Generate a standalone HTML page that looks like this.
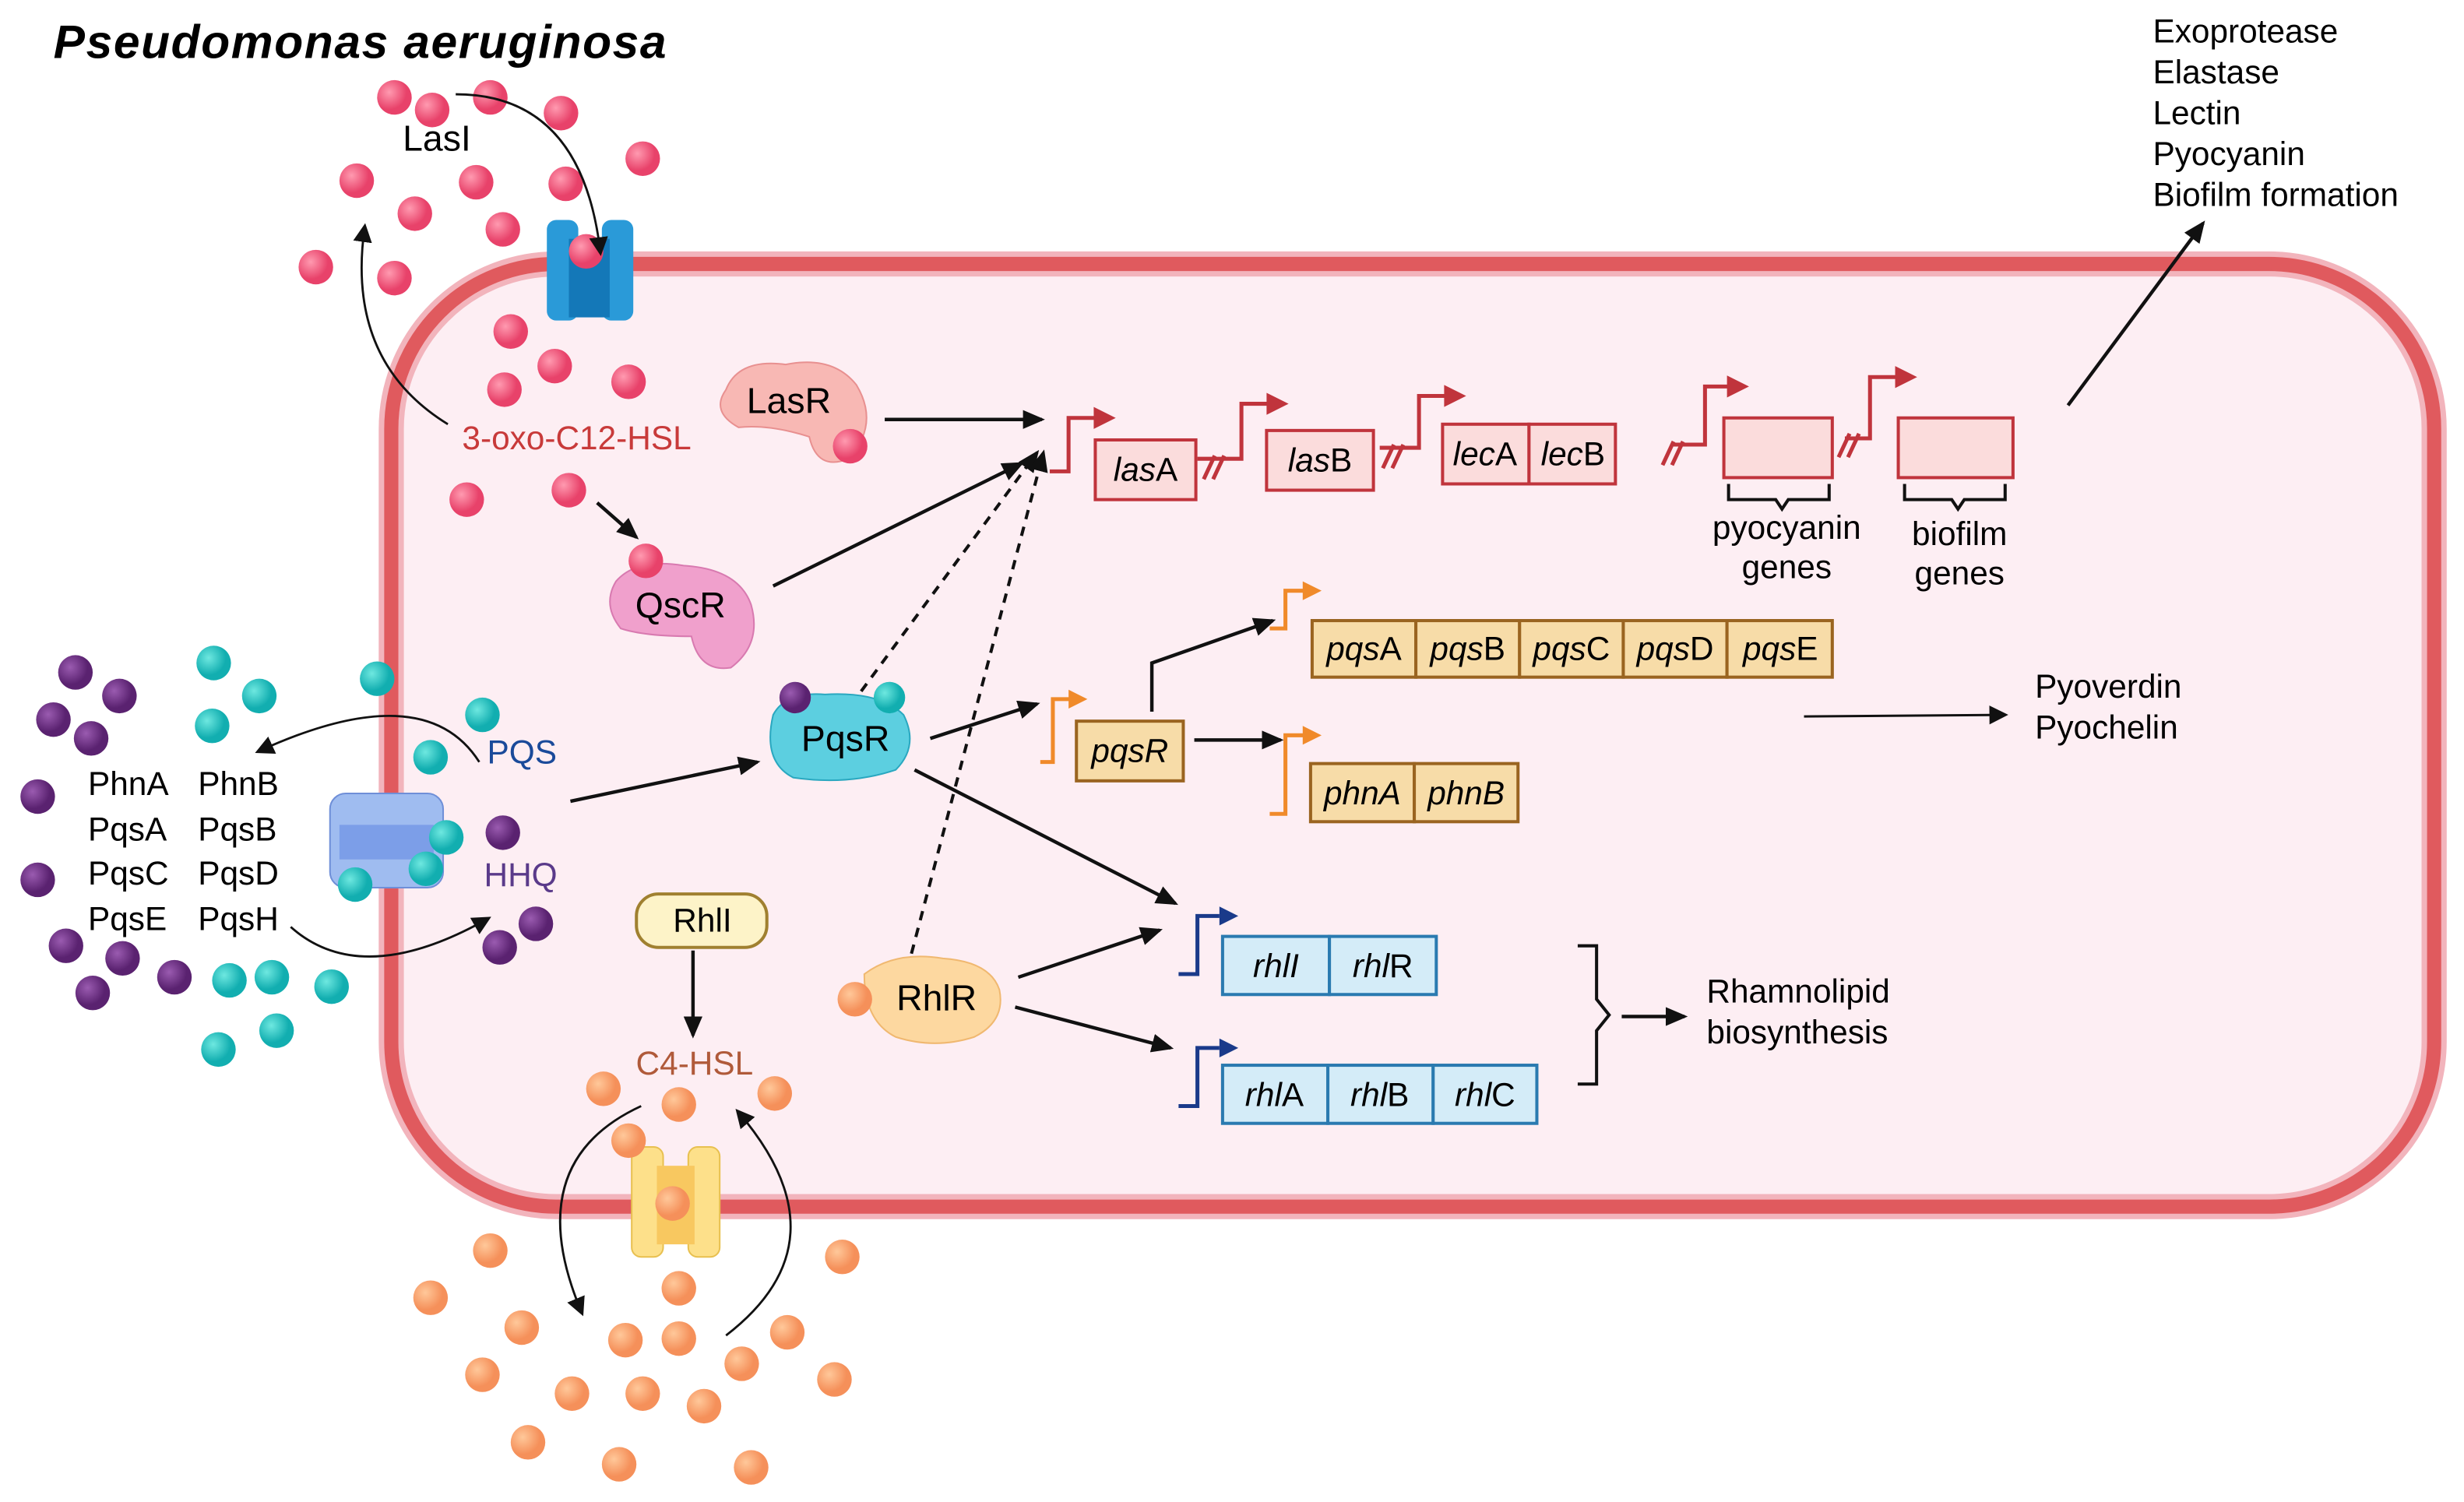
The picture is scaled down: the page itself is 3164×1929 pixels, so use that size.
<!DOCTYPE html>
<html><head><meta charset="utf-8"><style>
html,body{margin:0;padding:0;background:#fff;}
svg{display:block;}
text{font-family:"Liberation Sans",sans-serif;}
</style></head><body>
<svg width="3164" height="1929" viewBox="0 0 1568 956" preserveAspectRatio="none" xmlns="http://www.w3.org/2000/svg">
<defs>
<marker id="a" markerWidth="12" markerHeight="12" refX="9" refY="6" orient="auto" markerUnits="userSpaceOnUse"><path d="M0,0 L12,6 L0,12 Z" fill="#111"/></marker>
<marker id="b" markerWidth="14" markerHeight="12" refX="12" refY="6" orient="auto" markerUnits="userSpaceOnUse"><path d="M0,0 L14,6 L0,12 Z" fill="#111"/></marker>
<radialGradient id="pk" cx="35%" cy="35%"><stop offset="0" stop-color="#ff9ab0"/><stop offset="1" stop-color="#e8426a"/></radialGradient>
<radialGradient id="tl" cx="35%" cy="35%"><stop offset="0" stop-color="#6ee8e0"/><stop offset="1" stop-color="#12aeb0"/></radialGradient>
<radialGradient id="pu" cx="35%" cy="35%"><stop offset="0" stop-color="#9a5bb0"/><stop offset="1" stop-color="#5a2270"/></radialGradient>
<radialGradient id="or" cx="35%" cy="35%"><stop offset="0" stop-color="#ffc89a"/><stop offset="1" stop-color="#f5905a"/></radialGradient>
</defs>
<text x="34" y="37" font-size="30" font-weight="bold" font-style="italic" textLength="390">Pseudomonas aeruginosa</text>
<rect x="249" y="168" width="1300" height="600" rx="105" fill="#fdeef3" stroke="#f2b4bc" stroke-width="16"/>
<rect x="249" y="168" width="1300" height="600" rx="105" fill="none" stroke="#e05a5e" stroke-width="9"/>
<rect x="348" y="140" width="20" height="64" rx="6" fill="#2a9ad8"/><rect x="383" y="140" width="20" height="64" rx="6" fill="#2a9ad8"/><rect x="362" y="152" width="26" height="50" fill="#1478b8"/>
<rect x="210" y="505" width="72" height="60" rx="10" fill="#9fbcf0" stroke="#6f8fd8"/><rect x="216" y="525" width="60" height="22" fill="#7c9ee8"/>
<rect x="402" y="730" width="20" height="70" rx="6" fill="#fde08a" stroke="#e8c050"/><rect x="438" y="730" width="20" height="70" rx="6" fill="#fde08a" stroke="#e8c050"/><rect x="418" y="742" width="24" height="50" fill="#f8c860"/>
<g fill="url(#pk)">
<circle cx="251" cy="62" r="11"/><circle cx="275" cy="70" r="11"/><circle cx="312" cy="62" r="11"/><circle cx="357" cy="72" r="11"/><circle cx="409" cy="101" r="11"/><circle cx="227" cy="115" r="11"/><circle cx="303" cy="116" r="11"/><circle cx="360" cy="117" r="11"/><circle cx="264" cy="136" r="11"/><circle cx="320" cy="146" r="11"/><circle cx="201" cy="170" r="11"/><circle cx="251" cy="177" r="11"/><circle cx="373" cy="160" r="11"/><circle cx="325" cy="211" r="11"/><circle cx="353" cy="233" r="11"/><circle cx="321" cy="248" r="11"/><circle cx="400" cy="243" r="11"/><circle cx="297" cy="318" r="11"/><circle cx="362" cy="312" r="11"/>
</g>
<path d="M462,248 Q470,228 500,232 Q530,226 545,245 Q560,270 540,292 Q520,300 515,278 Q490,270 470,272 Q452,262 462,248Z" fill="#f8b8b4" stroke="#e89090"/>
<circle cx="541" cy="284" r="11" fill="url(#pk)"/>
<text x="502" y="263" font-size="23" text-anchor="middle">LasR</text>
<path d="M392,370 Q405,355 435,360 Q470,362 478,385 Q485,410 465,425 Q445,428 440,405 Q410,405 395,400 Q383,385 392,370Z" fill="#f0a0cc" stroke="#d87ab0"/>
<circle cx="411" cy="357" r="11" fill="url(#pk)"/>
<text x="433" y="393" font-size="23" text-anchor="middle">QscR</text>
<path d="M492,455 Q500,440 525,442 Q560,440 575,455 Q585,475 570,490 Q540,500 505,495 Q485,485 492,455Z" fill="#5ccfe0" stroke="#2aa8c0"/>
<circle cx="506" cy="444" r="10" fill="url(#pu)"/><circle cx="566" cy="444" r="10" fill="url(#tl)"/>
<text x="538" y="478" font-size="23" text-anchor="middle">PqsR</text>
<path d="M550,620 Q570,605 600,610 Q630,612 636,630 Q640,650 620,660 Q595,668 570,660 Q550,650 550,620Z" fill="#fdd8a0" stroke="#f0b870"/>
<circle cx="544" cy="636" r="11" fill="url(#or)"/>
<text x="596" y="643" font-size="23" text-anchor="middle">RhlR</text>
<rect x="405" y="569" width="83" height="34" rx="14" fill="#fdf3c8" stroke="#a08030" stroke-width="2"/>
<text x="447" y="593" font-size="21" text-anchor="middle">RhlI</text>
<g fill="url(#tl)">
<circle cx="136" cy="422" r="11"/><circle cx="165" cy="443" r="11"/><circle cx="240" cy="432" r="11"/><circle cx="135" cy="462" r="11"/><circle cx="307" cy="455" r="11"/><circle cx="274" cy="482" r="11"/><circle cx="284" cy="533" r="11"/><circle cx="271" cy="553" r="11"/><circle cx="226" cy="563" r="11"/><circle cx="146" cy="624" r="11"/><circle cx="173" cy="622" r="11"/><circle cx="211" cy="628" r="11"/><circle cx="139" cy="668" r="11"/><circle cx="176" cy="656" r="11"/>
</g>
<g fill="url(#pu)">
<circle cx="48" cy="428" r="11"/><circle cx="76" cy="443" r="11"/><circle cx="34" cy="458" r="11"/><circle cx="58" cy="470" r="11"/><circle cx="24" cy="507" r="11"/><circle cx="320" cy="530" r="11"/><circle cx="24" cy="560" r="11"/><circle cx="78" cy="610" r="11"/><circle cx="42" cy="602" r="11"/><circle cx="111" cy="622" r="11"/><circle cx="59" cy="632" r="11"/><circle cx="341" cy="588" r="11"/><circle cx="318" cy="603" r="11"/>
</g>
<g fill="url(#or)">
<circle cx="384" cy="693" r="11"/><circle cx="432" cy="703" r="11"/><circle cx="493" cy="696" r="11"/><circle cx="400" cy="726" r="11"/><circle cx="428" cy="766" r="11"/><circle cx="312" cy="796" r="11"/><circle cx="536" cy="800" r="11"/><circle cx="274" cy="826" r="11"/><circle cx="432" cy="820" r="11"/><circle cx="332" cy="845" r="11"/><circle cx="398" cy="853" r="11"/><circle cx="432" cy="852" r="11"/><circle cx="501" cy="848" r="11"/><circle cx="307" cy="875" r="11"/><circle cx="364" cy="887" r="11"/><circle cx="409" cy="887" r="11"/><circle cx="448" cy="895" r="11"/><circle cx="472" cy="868" r="11"/><circle cx="531" cy="878" r="11"/><circle cx="336" cy="918" r="11"/><circle cx="394" cy="932" r="11"/><circle cx="478" cy="934" r="11"/>
</g>
<text x="278" y="96" font-size="23" text-anchor="middle">LasI</text>
<text x="367" y="286" font-size="21" fill="#c83a3a" text-anchor="middle">3-oxo-C12-HSL</text>
<text x="310" y="486" font-size="21" fill="#1a4a9a">PQS</text>
<text x="308" y="564" font-size="21" fill="#5a3a8a">HHQ</text>
<text x="442" y="684" font-size="21" fill="#b05a3a" text-anchor="middle">C4-HSL</text>
<g font-size="21"><text x="56" y="506">PhnA</text><text x="126" y="506">PhnB</text><text x="56" y="535">PqsA</text><text x="126" y="535">PqsB</text><text x="56" y="563">PqsC</text><text x="126" y="563">PqsD</text><text x="56" y="592">PqsE</text><text x="126" y="592">PqsH</text></g>
<g fill="none" stroke="#111" stroke-width="1.4">
<path d="M290,60 Q370,60 382,160" marker-end="url(#a)"/>
<path d="M285,270 Q220,230 232,145" marker-end="url(#a)"/>
<path d="M305,485 Q270,430 165,478" marker-end="url(#a)"/>
<path d="M185,590 Q230,630 310,585" marker-end="url(#a)"/>
<path d="M408,704 Q330,740 370,835" marker-end="url(#a)"/>
<path d="M462,850 Q540,790 470,708" marker-end="url(#a)"/>
</g>
<g stroke="#111" stroke-width="2.2" fill="none">
<line x1="563" y1="267" x2="663" y2="267" marker-end="url(#b)"/>
<line x1="380" y1="320" x2="405" y2="342" marker-end="url(#b)"/>
<line x1="492" y1="373" x2="650" y2="295" marker-end="url(#b)"/>
<line x1="363" y1="510" x2="482" y2="485" marker-end="url(#b)"/>
<line x1="592" y1="470" x2="660" y2="448" marker-end="url(#b)"/>
<line x1="582" y1="490" x2="748" y2="575" marker-end="url(#b)"/>
<line x1="648" y1="622" x2="738" y2="592" marker-end="url(#b)"/>
<line x1="646" y1="641" x2="745" y2="667" marker-end="url(#b)"/>
<polyline points="733,453 733,422 810,395" marker-end="url(#b)"/>
<line x1="760" y1="471" x2="815" y2="471" marker-end="url(#b)"/>
<line x1="441" y1="605" x2="441" y2="659" marker-end="url(#b)"/>
<line x1="1032" y1="647" x2="1072" y2="647" marker-end="url(#b)"/>
<line x1="1316" y1="258" x2="1402" y2="142" marker-end="url(#b)"/>
</g>
<line x1="1148" y1="456" x2="1275" y2="455" stroke="#111" stroke-width="1.5" marker-end="url(#a)"/>
<g stroke="#111" stroke-width="2" stroke-dasharray="6,5" fill="none">
<line x1="548" y1="440" x2="660" y2="288" marker-end="url(#b)"/>
<line x1="580" y1="607" x2="664" y2="288" marker-end="url(#b)"/>
</g>
<g stroke="#c0343c" stroke-width="2.5" fill="none">
<polyline points="668,300 680,300 680,266 698,266"/><polyline points="762,292 790,292 790,257 808,257"/><polyline points="878,285 903,285 903,252 921,252"/><polyline points="1065,283 1085,283 1085,246 1101,246"/><polyline points="1174,279 1190,279 1190,240 1208,240"/>
<line x1="766" y1="305" x2="773" y2="290"/><line x1="772" y1="305" x2="779" y2="290"/>
<line x1="880" y1="298" x2="887" y2="283"/><line x1="886" y1="298" x2="893" y2="283"/>
<line x1="1058" y1="296" x2="1065" y2="281"/><line x1="1064" y1="296" x2="1071" y2="281"/>
<line x1="1170" y1="291" x2="1177" y2="276"/><line x1="1176" y1="291" x2="1183" y2="276"/>
</g>
<g fill="#c0343c"><path d="M696,259 L710,266 L696,273Z"/><path d="M806,250 L820,257 L806,264Z"/><path d="M919,245 L933,252 L919,259Z"/><path d="M1099,239 L1113,246 L1099,253Z"/><path d="M1206,233 L1220,240 L1206,247Z"/></g>
<g fill="#fbdcdc" stroke="#c0343c" stroke-width="2">
<rect x="697" y="280" width="64" height="38"/><rect x="806" y="274" width="68" height="38"/><rect x="918" y="270" width="55" height="38"/><rect x="973" y="270" width="55" height="38"/><rect x="1097" y="266" width="69" height="38"/><rect x="1208" y="266" width="73" height="38"/>
</g>
<g font-size="21" font-style="italic" text-anchor="middle">
<text x="729" y="306">las<tspan font-style="normal">A</tspan></text><text x="840" y="300">las<tspan font-style="normal">B</tspan></text><text x="945" y="296">lec<tspan font-style="normal">A</tspan></text><text x="1001" y="296">lec<tspan font-style="normal">B</tspan></text>
</g>
<g stroke="#111" stroke-width="2" fill="none"><path d="M1100,308 V318 H1130 L1134,324 L1138,318 H1164 V308"/><path d="M1212,308 V318 H1242 L1246,324 L1250,318 H1276 V308"/></g>
<g font-size="21" text-anchor="middle"><text x="1137" y="343">pyocyanin</text><text x="1137" y="368">genes</text><text x="1247" y="347">biofilm</text><text x="1247" y="372">genes</text></g>
<g stroke="#f08a2a" stroke-width="2.5" fill="none"><polyline points="662,485 670,485 670,445 682,445"/><polyline points="808,400 818,400 818,376 830,376"/><polyline points="808,518 818,518 818,468 830,468"/></g>
<g fill="#f08a2a"><path d="M680,439 L692,445 L680,451Z"/><path d="M829,370 L841,376 L829,382Z"/><path d="M829,462 L841,468 L829,474Z"/></g>
<g fill="#f7dca8" stroke="#9a6420" stroke-width="2"><rect x="685" y="459" width="68" height="38"/>
<rect x="835" y="395" width="66" height="36"/><rect x="901" y="395" width="66" height="36"/><rect x="967" y="395" width="66" height="36"/><rect x="1033" y="395" width="66" height="36"/><rect x="1099" y="395" width="67" height="36"/>
<rect x="834" y="486" width="66" height="37"/><rect x="900" y="486" width="66" height="37"/></g>
<g font-size="21" font-style="italic" text-anchor="middle">
<text x="719" y="485">pqsR</text>
<text x="868" y="420">pqs<tspan font-style="normal">A</tspan></text><text x="934" y="420">pqs<tspan font-style="normal">B</tspan></text><text x="1000" y="420">pqs<tspan font-style="normal">C</tspan></text><text x="1066" y="420">pqs<tspan font-style="normal">D</tspan></text><text x="1133" y="420">pqs<tspan font-style="normal">E</tspan></text>
<text x="867" y="512">phnA</text><text x="933" y="512">phnB</text>
</g>
<g stroke="#1a3a8a" stroke-width="2.5" fill="none"><polyline points="750,620 762,620 762,583 776,583"/><polyline points="750,704 762,704 762,667 776,667"/></g>
<g fill="#1a3a8a"><path d="M776,577 L788,583 L776,589Z"/><path d="M776,661 L788,667 L776,673Z"/></g>
<g fill="#d4ecf8" stroke="#2a7ab0" stroke-width="2"><rect x="778" y="596" width="68" height="37"/><rect x="846" y="596" width="68" height="37"/><rect x="778" y="678" width="67" height="37"/><rect x="845" y="678" width="67" height="37"/><rect x="912" y="678" width="66" height="37"/></g>
<g font-size="21" font-style="italic" text-anchor="middle"><text x="812" y="622">rhlI</text><text x="880" y="622">rhl<tspan font-style="normal">R</tspan></text><text x="811" y="704">rhl<tspan font-style="normal">A</tspan></text><text x="878" y="704">rhl<tspan font-style="normal">B</tspan></text><text x="945" y="704">rhl<tspan font-style="normal">C</tspan></text></g>
<path d="M1004,602 H1016 V636 L1024,646 L1016,656 V690 H1004" fill="none" stroke="#111" stroke-width="2"/>
<g font-size="21"><text x="1086" y="638">Rhamnolipid</text><text x="1086" y="664">biosynthesis</text>
<text x="1295" y="444">Pyoverdin</text><text x="1295" y="470">Pyochelin</text>
<text x="1370" y="27">Exoprotease</text><text x="1370" y="53">Elastase</text><text x="1370" y="79">Lectin</text><text x="1370" y="105">Pyocyanin</text><text x="1370" y="131">Biofilm formation</text></g>
</svg>
</body></html>
